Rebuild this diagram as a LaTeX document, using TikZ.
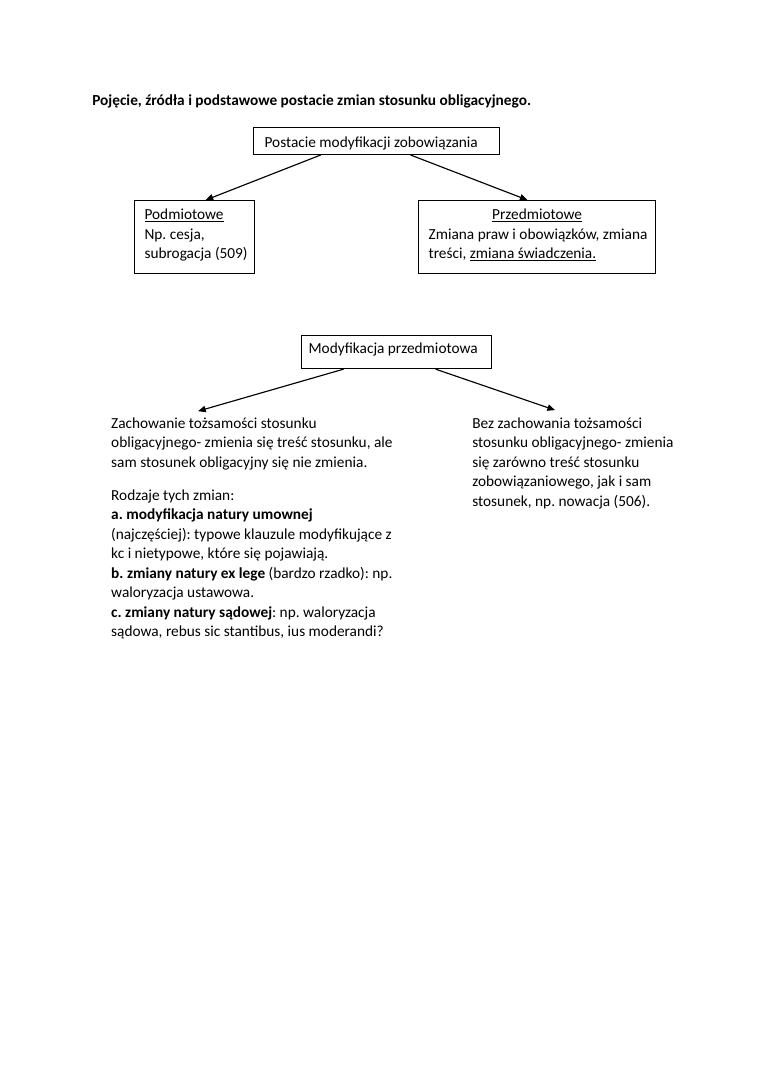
\documentclass[tikz,border=0pt]{standalone}
\usepackage{fontspec}
\setmainfont{Carlito}
\usetikzlibrary{arrows.meta,calc}
\AtBeginDocument{\frenchspacing}
\newcommand{\odst}{\spaceskip=0pt\xspaceskip=0pt\relax}

\tikzset{
  ramka/.style={draw,line width=0.8pt,anchor=north west,inner ysep=0pt},
  opis/.style={anchor=base west,inner sep=0pt,text width=230pt},
  strzalka/.style={line width=0.9pt,-{Triangle[length=6pt,width=5pt]}}
}

\begin{document}
\begin{tikzpicture}[x=1pt,y=-1pt,font=\fontsize{12}{15.3}\selectfont]
  \useasboundingbox (0,0) rectangle (595.3,841.9);
  \node[anchor=base west,inner sep=0pt,font=\fontsize{12}{15.3}\selectfont\bfseries] (tytul) at (72.1,82.3) {Pojęcie, źródła i podstawowe postacie zmian stosunku obligacyjnego.};
  \node[ramka,inner xsep=8.6pt,text width=175.5pt,text height=15.9pt,text depth=5.2pt] (postacie) at (198.2,99.5) {\odst\mbox{Postacie modyfikacji zobowiązania}};
  \node[ramka,inner xsep=7.8pt,text width=78.4pt,text height=14.8pt,text depth=42.3pt] (podm) at (105,156.7) {\odst\underline{Podmiotowe}\\Np. cesja,\\\mbox{subrogacja (509)}};
  \node[ramka,inner xsep=7.9pt,text width=169.9pt,text height=14.8pt,text depth=42.3pt] (przed) at (327.4,156.7) {\odst\makebox[\linewidth]{\underline{Przedmiotowe}}\\\mbox{Zmiana praw i obowiązków, zmiana}\\treści, \underline{zmiana świadczenia.}};
  \draw[strzalka] ($(postacie.south)+(-43.8,0)$) -- ($(podm.north)+(8.6,0)$);
  \draw[strzalka] ($(postacie.south)+(26.6,0)$) -- ($(przed.north)+(-7.5,0)$);
  \node[ramka,inner xsep=5.5pt,text width=137.8pt,text height=14.1pt,text depth=11.8pt] (modyf) at (235.8,262.4) {\odst\mbox{Modyfikacja przedmiotowa}};
  \node[opis] (zach) at (86.9,335.3) {\odst Zachowanie tożsamości stosunku\\obligacyjnego- zmienia się treść stosunku, ale\\sam stosunek obligacyjny się nie zmienia.\\[10.4pt]Rodzaje tych zmian:\\\textbf{a. modyfikacja natury umownej}\\(najczęściej): typowe klauzule modyfikujące z\\kc i nietypowe, które się pojawiają.\\\textbf{b. zmiany natury ex lege} (bardzo rzadko): np.\\waloryzacja ustawowa.\\\textbf{c. zmiany natury sądowej}: np. waloryzacja\\sądowa, rebus sic stantibus, ius moderandi?};
  \node[opis] (bez) at (369.7,335.3) {\odst Bez zachowania tożsamości\\stosunku obligacyjnego- zmienia\\się zarówno treść stosunku\\zobowiązaniowego, jak i sam\\stosunek, np. nowacja (506).};
  \coordinate (zachgora) at (155.1,322);
  \coordinate (bezgora) at (434.7,321.2);
  \draw[strzalka] ($(modyf.south)+(-41.5,0)$) -- (zachgora);
  \draw[strzalka] ($(modyf.south)+(30.5,0)$) -- (bezgora);
\end{tikzpicture}
\end{document}
